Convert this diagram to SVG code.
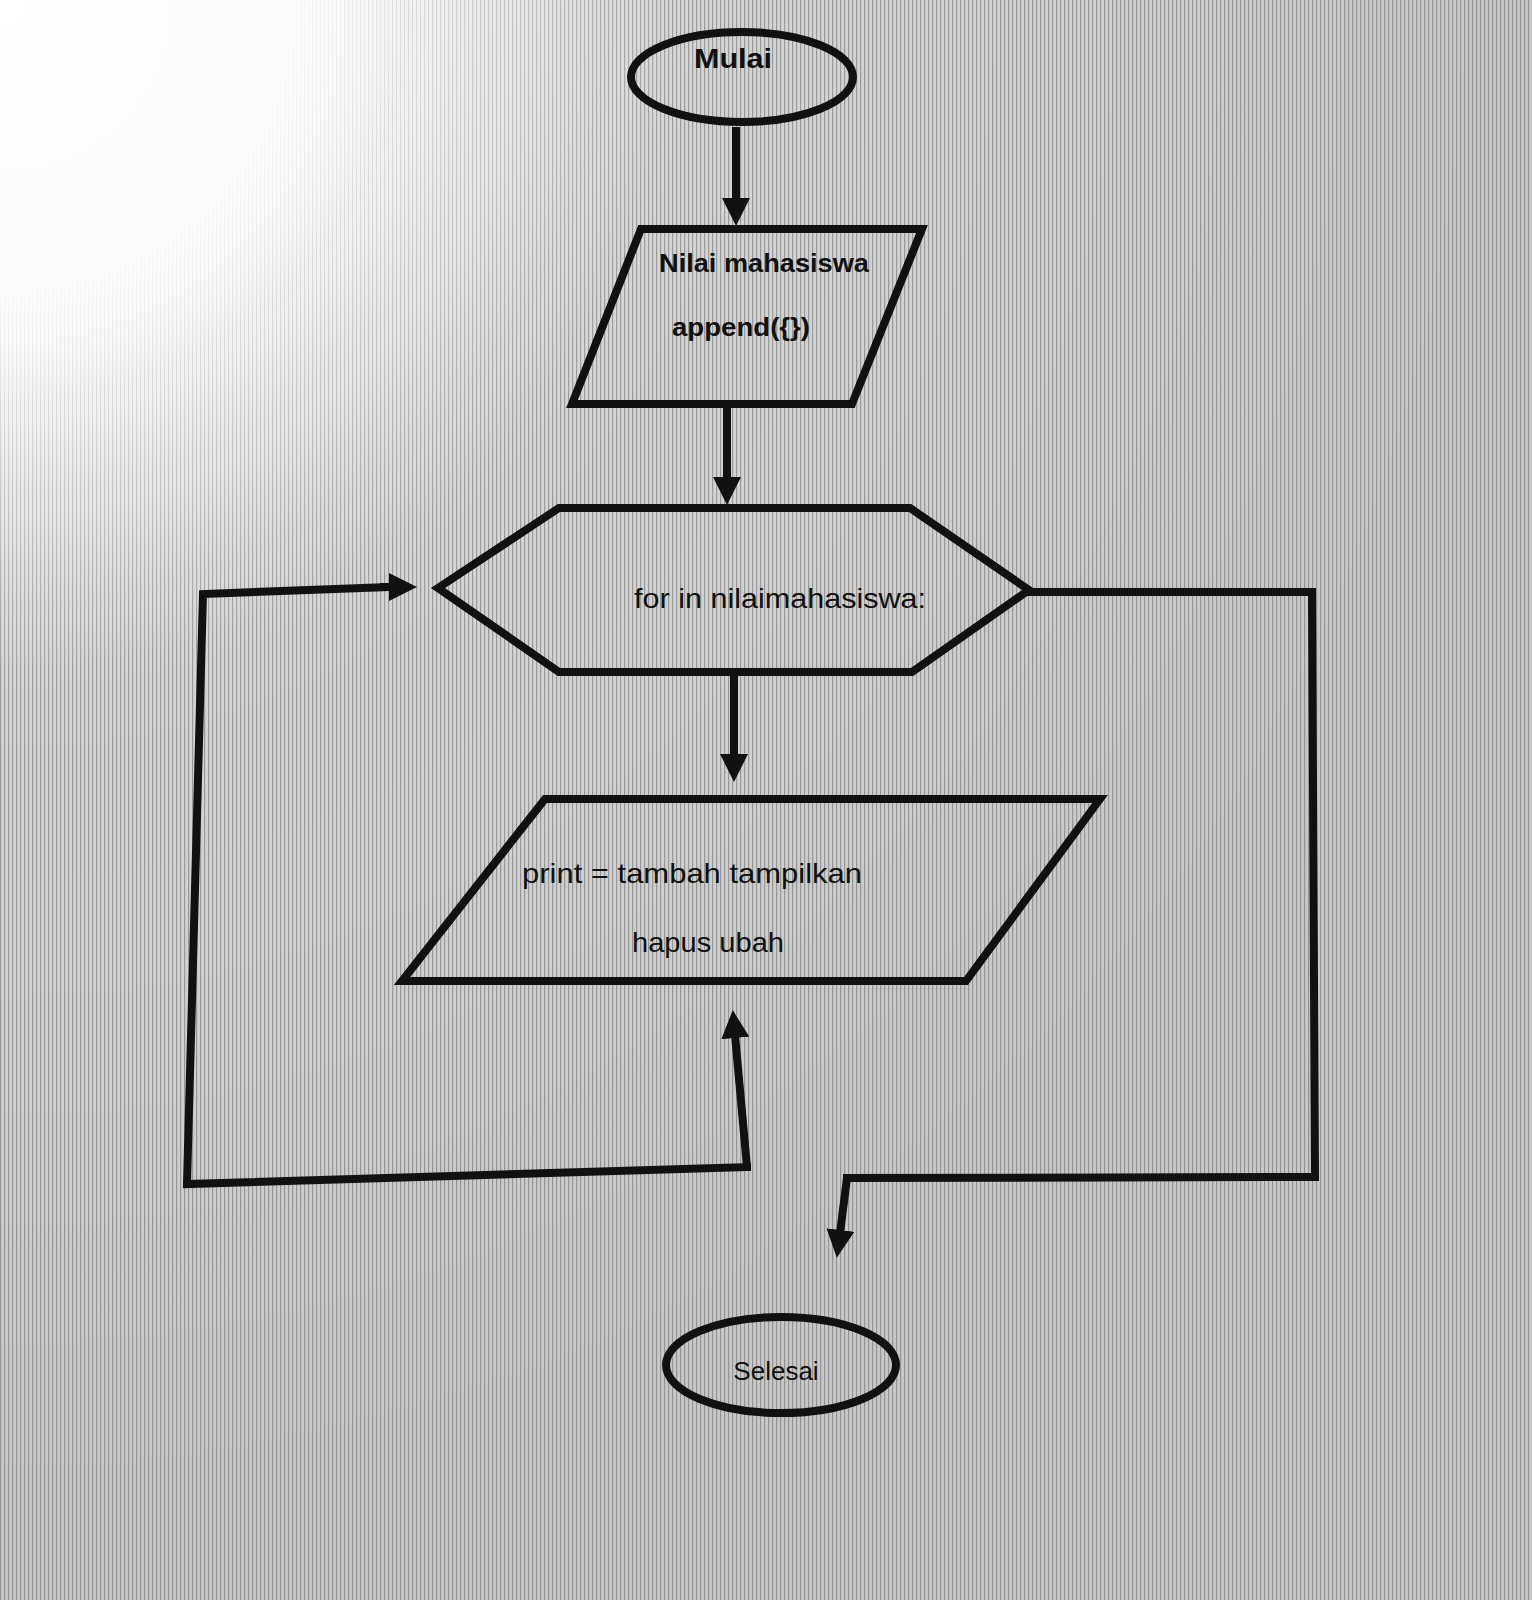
<svg xmlns="http://www.w3.org/2000/svg" width="1532" height="1600" viewBox="0 0 1532 1600">
  <defs>
    <radialGradient id="bg" cx="0" cy="0" r="1500" gradientUnits="userSpaceOnUse">
      <stop offset="0" stop-color="#ffffff"/>
      <stop offset="0.22" stop-color="#fbfbfb"/>
      <stop offset="0.45" stop-color="#d6d6d6"/>
      <stop offset="1" stop-color="#c8c8c8"/>
    </radialGradient>
    <radialGradient id="fadeG" cx="0" cy="0" r="1400" gradientUnits="userSpaceOnUse">
      <stop offset="0" stop-color="#000"/>
      <stop offset="0.2" stop-color="#000"/>
      <stop offset="0.5" stop-color="#fff"/>
      <stop offset="1" stop-color="#fff"/>
    </radialGradient>
    <mask id="fade" maskUnits="userSpaceOnUse" x="0" y="0" width="1532" height="1600">
      <rect x="0" y="0" width="1532" height="1600" fill="url(#fadeG)"/>
    </mask>
    <pattern id="stripes" width="4" height="10" patternUnits="userSpaceOnUse">
      <rect x="0" y="0" width="1.2" height="10" fill="#555" opacity="0.45"/>
    </pattern>
    <marker id="ah" viewBox="0 0 28 28" refX="3" refY="14" markerWidth="28" markerHeight="28" markerUnits="userSpaceOnUse" orient="auto">
      <path d="M0,0 L28,14 L0,28 z" fill="#111"/>
    </marker>
    <style>
      .shape { fill: none; stroke: #111; stroke-width: 8; stroke-linejoin: miter; }
      .conn { fill: none; stroke: #111; stroke-width: 8; stroke-linejoin: miter; stroke-linecap: square; }
      .arrow { fill: none; stroke: #111; stroke-width: 8; marker-end: url(#ah); }
      .lbl { font-family: "Liberation Sans", "DejaVu Sans", sans-serif; fill: #111; text-anchor: middle; }
      .bold { font-weight: bold; }
    </style>
  </defs>

  <rect x="0" y="0" width="1532" height="1600" fill="url(#bg)"/>
  <rect x="0" y="0" width="1532" height="1600" fill="url(#stripes)" mask="url(#fade)"/>

  <g id="connectors">
    <line class="arrow" x1="736" y1="127" x2="736" y2="201"/>
    <line class="arrow" x1="727" y1="408" x2="727" y2="480"/>
    <line class="arrow" x1="734" y1="676" x2="734" y2="757"/>
    <!-- loop back -->
    <polyline class="conn" points="747,1167 187,1184 203,594 392,587"/>
    <line class="arrow" x1="747" y1="1167" x2="735" y2="1035"/>
    <line class="arrow" x1="380" y1="587" x2="392" y2="587"/>
    <!-- exit -->
    <polyline class="conn" points="1028,592 1312,592 1315,1177 847,1178"/>
    <line class="arrow" x1="847" y1="1178" x2="840" y2="1233"/>
  </g>

  <g id="node-mulai">
    <ellipse class="shape" cx="742" cy="77" rx="111" ry="45"/>
    <text class="lbl bold" x="733" y="68" font-size="27" textLength="78" lengthAdjust="spacingAndGlyphs">Mulai</text>
  </g>

  <g id="node-input">
    <polygon class="shape" points="641,229 922,229 852,404 572,404"/>
    <text class="lbl bold" x="764" y="272" font-size="26" textLength="210" lengthAdjust="spacingAndGlyphs">Nilai mahasiswa</text>
    <text class="lbl bold" x="741" y="336" font-size="26" textLength="138" lengthAdjust="spacingAndGlyphs">append({})</text>
  </g>

  <g id="node-loop">
    <polygon class="shape" points="559,508 910,508 1029,590 912,672 559,672 438,588"/>
    <text class="lbl" x="780" y="608" font-size="28" textLength="292" lengthAdjust="spacingAndGlyphs">for in nilaimahasiswa:</text>
  </g>

  <g id="node-output">
    <polygon class="shape" points="545,799 1100,799 966,981 402,981"/>
    <text class="lbl" x="692" y="883" font-size="28" textLength="340" lengthAdjust="spacingAndGlyphs">print = tambah tampilkan</text>
    <text class="lbl" x="708" y="952" font-size="28" textLength="152" lengthAdjust="spacingAndGlyphs">hapus ubah</text>
  </g>

  <g id="node-selesai">
    <ellipse class="shape" cx="781" cy="1365" rx="115" ry="48"/>
    <text class="lbl" x="776" y="1380" font-size="26">Selesai</text>
  </g>
</svg>
